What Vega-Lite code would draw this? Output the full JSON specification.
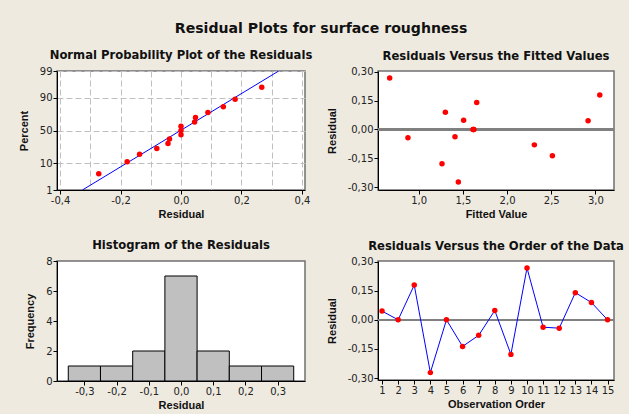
{
  "$schema": "https://vega.github.io/schema/vega-lite/v6.json",
  "background": "#EEEAE0",
  "padding": {"left": 17, "top": 21, "right": 5, "bottom": 5},
  "title": {"text": "Residual Plots for surface roughness", "font": "DejaVu Sans", "fontSize": 14.1, "fontWeight": "bold", "color": "#111", "anchor": "middle", "offset": 14},
  "config": {
    "font": "DejaVu Sans",
    "view": {"fill": "white", "stroke": "#707070", "strokeWidth": 1.5},
    "title": {"font": "DejaVu Sans", "fontSize": 11.6, "fontWeight": "bold", "color": "#111", "offset": 4},
    "axis": {"labelFont": "DejaVu Sans", "labelFontSize": 10, "labelColor": "#222", "titleFont": "Liberation Sans", "titleFontSize": 11, "titleFontWeight": "bold", "titleColor": "#111", "domainColor": "#000", "tickColor": "#000", "tickSize": 4, "grid": false, "labelPadding": 1, "titlePadding": 3, "tickCount": 40, "labelOverlap": false},
    "axisY": {"titlePadding": 10}
  },
  "datasets": {
    "obs": [
      {"order": 1, "fitted": 2.917, "residual": 0.045},
      {"order": 2, "fitted": 1.615, "residual": 0.0},
      {"order": 3, "fitted": 3.049, "residual": 0.179},
      {"order": 4, "fitted": 1.449, "residual": -0.272},
      {"order": 5, "fitted": 1.62, "residual": 0.0},
      {"order": 6, "fitted": 2.513, "residual": -0.137},
      {"order": 7, "fitted": 2.309, "residual": -0.08},
      {"order": 8, "fitted": 1.509, "residual": 0.048},
      {"order": 9, "fitted": 1.264, "residual": -0.178},
      {"order": 10, "fitted": 0.672, "residual": 0.267},
      {"order": 11, "fitted": 1.411, "residual": -0.038},
      {"order": 12, "fitted": 0.879, "residual": -0.043},
      {"order": 13, "fitted": 1.657, "residual": 0.14},
      {"order": 14, "fitted": 1.302, "residual": 0.089},
      {"order": 15, "fitted": 1.625, "residual": 0.0}
    ],
    "npp": [
      {"residual": -0.272, "percent": 4.55, "z": -1.691},
      {"residual": -0.178, "percent": 11.04, "z": -1.224},
      {"residual": -0.137, "percent": 17.53, "z": -0.933},
      {"residual": -0.08, "percent": 24.03, "z": -0.706},
      {"residual": -0.043, "percent": 30.52, "z": -0.509},
      {"residual": -0.038, "percent": 37.01, "z": -0.331},
      {"residual": 0.0, "percent": 43.51, "z": -0.163},
      {"residual": 0.0, "percent": 50.0, "z": 0.0},
      {"residual": 0.0, "percent": 56.49, "z": 0.163},
      {"residual": 0.045, "percent": 62.99, "z": 0.331},
      {"residual": 0.048, "percent": 69.48, "z": 0.509},
      {"residual": 0.089, "percent": 75.97, "z": 0.706},
      {"residual": 0.14, "percent": 82.47, "z": 0.933},
      {"residual": 0.179, "percent": 88.96, "z": 1.224},
      {"residual": 0.267, "percent": 95.45, "z": 1.691}
    ],
    "fitline": [
      {"residual": -0.326, "z": -2.3263},
      {"residual": 0.323, "z": 2.3263}
    ],
    "hist": [
      {"lo": -0.35, "hi": -0.25, "count": 1},
      {"lo": -0.25, "hi": -0.15, "count": 1},
      {"lo": -0.15, "hi": -0.05, "count": 2},
      {"lo": -0.05, "hi": 0.05, "count": 7},
      {"lo": 0.05, "hi": 0.15, "count": 2},
      {"lo": 0.15, "hi": 0.25, "count": 1},
      {"lo": 0.25, "hi": 0.35, "count": 1}
    ]
  },
  "bounds": "flush",
  "columns": 2,
  "spacing": {"row": 71, "column": 73},
  "concat": [
    {
      "width": 248, "height": 119,
      "title": "Normal Probability Plot of the Residuals",
      "layer": [
        {
          "data": {"name": "fitline"},
          "mark": {"type": "line", "color": "#0000FF", "strokeWidth": 1, "clip": true},
          "encoding": {
            "x": {"field": "residual", "type": "quantitative",
              "scale": {"domain": [-0.41, 0.41], "nice": false, "zero": false},
              "axis": {"title": "Residual", "values": [-0.4, -0.3, -0.2, -0.1, 0, 0.1, 0.2, 0.3, 0.4],
                "grid": true, "gridColor": "#C0C0C0", "gridDash": [6, 3], "gridWidth": 1,
                "labelExpr": "abs(round(datum.value*10))%2==0 ? replace(replace(format(datum.value,'.1f'),'.',','),'\u2212','-') : ''",
                "tickOpacity": {"condition": {"test": "abs(round(datum.value*10))%2==1", "value": 0}, "value": 1}}},
            "y": {"field": "z", "type": "quantitative",
              "scale": {"domain": [-2.3263, 2.3263], "nice": false, "zero": false},
              "axis": {"title": "Percent", "values": [-2.3263, -1.2816, 0, 1.2816, 2.3263],
                "grid": true, "gridColor": "#C0C0C0", "gridDash": [6, 3], "gridWidth": 1,
                "labelExpr": "datum.value < -2 ? '1' : datum.value < -1 ? '10' : datum.value < 1 ? '50' : datum.value < 2 ? '90' : '99'"}}
          }
        },
        {
          "data": {"name": "npp"},
          "mark": {"type": "circle", "color": "#FF0000", "size": 30, "opacity": 1},
          "encoding": {
            "x": {"field": "residual", "type": "quantitative"},
            "y": {"field": "z", "type": "quantitative"}
          }
        }
      ]
    },
    {
      "width": 236, "height": 119,
      "title": "Residuals Versus the Fitted Values",
      "layer": [
        {
          "data": {"name": "obs"},
          "mark": {"type": "rule", "color": "#808080", "strokeWidth": 1.5},
          "encoding": {"y": {"datum": 0}}
        },
        {
          "data": {"name": "obs"},
          "mark": {"type": "circle", "color": "#FF0000", "size": 30, "opacity": 1},
          "encoding": {
            "x": {"field": "fitted", "type": "quantitative",
              "scale": {"domain": [0.54, 3.21], "nice": false, "zero": false},
              "axis": {"title": "Fitted Value", "values": [1, 1.5, 2, 2.5, 3],
                "labelExpr": "replace(format(datum.value,'.1f'),'.',',')"}},
            "y": {"field": "residual", "type": "quantitative",
              "scale": {"domain": [-0.314, 0.303], "nice": false, "zero": false},
              "axis": {"title": "Residual", "values": [-0.3, -0.15, 0, 0.15, 0.3],
                "labelExpr": "replace(replace(format(datum.value,'.2f'),'.',','),'\u2212','-')"}}
          }
        }
      ]
    },
    {
      "width": 248, "height": 120,
      "title": "Histogram of the Residuals",
      "data": {"name": "hist"},
      "mark": {"type": "bar", "fill": "#C0C0C0", "stroke": "#000", "strokeWidth": 1},
      "encoding": {
        "x": {"field": "lo", "type": "quantitative",
          "scale": {"domain": [-0.385, 0.385], "nice": false, "zero": false},
          "axis": {"title": "Residual", "values": [-0.3, -0.2, -0.1, 0, 0.1, 0.2, 0.3],
            "labelExpr": "replace(replace(format(datum.value,'.1f'),'.',','),'\u2212','-')"}},
        "x2": {"field": "hi"},
        "y": {"field": "count", "type": "quantitative",
          "scale": {"domain": [0, 8], "nice": false},
          "axis": {"title": "Frequency", "values": [0, 2, 4, 6, 8], "format": "d"}},
        "y2": {"datum": 0}
      }
    },
    {
      "width": 236, "height": 119,
      "title": "Residuals Versus the Order of the Data",
      "layer": [
        {
          "data": {"name": "obs"},
          "mark": {"type": "rule", "color": "#808080", "strokeWidth": 1.5},
          "encoding": {"y": {"datum": 0}}
        },
        {
          "data": {"name": "obs"},
          "mark": {"type": "line", "color": "#0000FF", "strokeWidth": 1},
          "encoding": {
            "x": {"field": "order", "type": "quantitative",
              "scale": {"domain": [0.75, 15.4], "nice": false, "zero": false},
              "axis": {"title": "Observation Order", "values": [1,2,3,4,5,6,7,8,9,10,11,12,13,14,15], "format": "d"}},
            "y": {"field": "residual", "type": "quantitative",
              "scale": {"domain": [-0.31, 0.303], "nice": false, "zero": false},
              "axis": {"title": "Residual", "values": [-0.3, -0.15, 0, 0.15, 0.3],
                "labelExpr": "replace(replace(format(datum.value,'.2f'),'.',','),'\u2212','-')"}}
          }
        },
        {
          "data": {"name": "obs"},
          "mark": {"type": "circle", "color": "#FF0000", "size": 30, "opacity": 1},
          "encoding": {
            "x": {"field": "order", "type": "quantitative"},
            "y": {"field": "residual", "type": "quantitative"}
          }
        }
      ]
    }
  ]
}
